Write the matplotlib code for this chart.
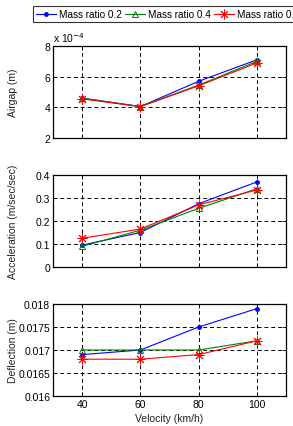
import matplotlib
matplotlib.use("Agg")
import matplotlib.pyplot as plt
from matplotlib.ticker import FuncFormatter

plt.rcParams['font.family'] = ['Liberation Sans', 'DejaVu Sans']
plt.rcParams['font.size'] = 7.5

velocity = [40, 60, 80, 100]
labels = ["Mass ratio 0.2", "Mass ratio 0.4", "Mass ratio 0.6"]

airgap_02 = [4.6e-4, 4.05e-4, 5.7e-4, 7.1e-4]
airgap_04 = [4.6e-4, 4.05e-4, 5.45e-4, 7.0e-4]
airgap_06 = [4.55e-4, 4.05e-4, 5.4e-4, 6.9e-4]

accel_02 = [0.095, 0.15, 0.275, 0.37]
accel_04 = [0.09, 0.16, 0.255, 0.34]
accel_06 = [0.125, 0.165, 0.27, 0.335]

defl_02 = [0.0169, 0.0170, 0.0175, 0.0179]
defl_04 = [0.0170, 0.0170, 0.0170, 0.0172]
defl_06 = [0.0168, 0.0168, 0.0169, 0.0172]

colors = ["#0000ff", "#008000", "#ff0000"]
markers = [dict(marker='.', ms=5),
           dict(marker='^', ms=5, mfc='none', markeredgewidth=0.7),
           dict(marker=(8, 2, 0), ms=7, markeredgewidth=0.7)]

fig = plt.figure(figsize=(2.93, 4.27), dpi=100)
W, H = 293, 427
def ax_at(l, t, r, b):
    return fig.add_axes([l / W, 1 - b / H, (r - l) / W, (b - t) / H])

ax1 = ax_at(53, 47, 286, 139)
ax2 = ax_at(53, 176, 286, 268)
ax3 = ax_at(53, 305, 286, 397)

datasets = [
    (ax1, [airgap_02, airgap_04, airgap_06], "Airgap (m)", (2e-4, 8e-4), [2e-4, 4e-4, 6e-4, 8e-4]),
    (ax2, [accel_02, accel_04, accel_06], "Acceleration (m/sec/sec)", (0, 0.4), [0, 0.1, 0.2, 0.3, 0.4]),
    (ax3, [defl_02, defl_04, defl_06], "Deflection (m)", (0.016, 0.018), [0.016, 0.0165, 0.017, 0.0175, 0.018]),
]

handles = []
for ax, series, ylabel, ylim, yticks in datasets:
    hs = []
    for s, c, m, lab in zip(series, colors, markers, labels):
        h, = ax.plot(velocity, s, color=c, lw=0.8, label=lab, **m)
        hs.append(h)
    handles = handles or hs
    ax.set_xlim(30, 110)
    ax.set_xticks(velocity)
    ax.set_ylim(*ylim)
    ax.set_yticks(yticks)
    ax.set_ylabel(ylabel, fontsize=7.5, color='#222222')
    ax.yaxis.set_label_coords(-0.152, 0.5)
    ax.grid(True, color='black', linestyle=(0, (4, 3)), linewidth=0.7)
    ax.tick_params(direction='in', length=3, width=0.6, top=True, right=True, labelsize=7.5, pad=2)
    for sp in ax.spines.values():
        sp.set_linewidth(0.9)

ax1.yaxis.set_major_formatter(FuncFormatter(lambda v, p: f"{v/1e-4:g}"))
ax1.text(0.0, 1.02, r"x 10$^{-4}$", transform=ax1.transAxes, fontsize=7.5, ha='left', va='bottom')
ax1.set_xticklabels([])
ax2.set_xticklabels([])
ax2.yaxis.set_major_formatter(FuncFormatter(lambda v, p: f"{v:g}"))
ax3.yaxis.set_major_formatter(FuncFormatter(lambda v, p: f"{v:g}"))
ax3.set_xlabel("Velocity (km/h)", fontsize=7.5, labelpad=3, color='#222222')

leg = fig.legend(handles, labels, loc='upper left', bbox_to_anchor=(33 / W, 1 - 7 / H), ncol=3,
                 fontsize=7.2, frameon=True, fancybox=False, edgecolor='black', handlelength=2.0,
                 handletextpad=0.3, columnspacing=0.3, borderpad=0.3, borderaxespad=0)
leg.get_frame().set_linewidth(0.8)

fig.savefig("out.png", dpi=100)
